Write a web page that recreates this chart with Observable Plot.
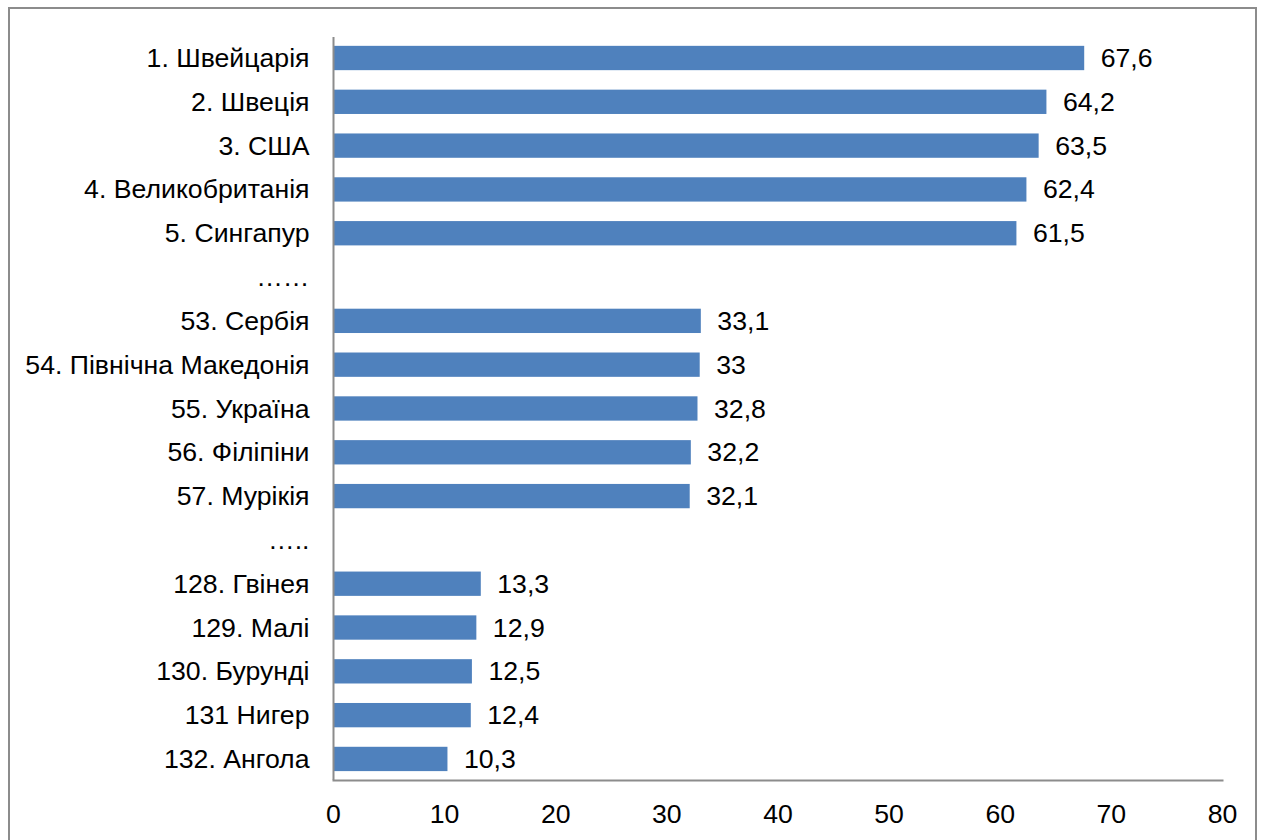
<!DOCTYPE html>
<html>
<head>
<meta charset="utf-8">
<script src="https://cdn.jsdelivr.net/npm/d3@7"></script>
<script src="https://cdn.jsdelivr.net/npm/@observablehq/plot@0.6"></script>
<style>
  html, body { margin: 0; padding: 0; background: #fff; }
  #wrap { position: relative; width: 1262px; height: 840px; overflow: hidden; }
  #border { position: absolute; left: 8px; top: 7px; width: 1249px; height: 900px; border: 2px solid #8c8c8c; box-sizing: border-box; }
  #chart { position: absolute; left: 0; top: 0; }
</style>
</head>
<body>
<div id="wrap">
  <div id="border"></div>
  <div id="chart"></div>
</div>
<script>
const countries = [
  "1. Швейцарія", "2. Швеція", "3. США", "4. Великобританія", "5. Сингапур",
  "……",
  "53. Сербія", "54. Північна Македонія", "55. Україна", "56. Філіпіни", "57. Мурікія",
  "…..",
  "128. Гвінея", "129. Малі", "130. Бурунді", "131 Нигер", "132. Ангола"
];
const values = [67.6, 64.2, 63.5, 62.4, 61.5, null, 33.1, 33, 32.8, 32.2, 32.1, null, 13.3, 12.9, 12.5, 12.4, 10.3];
const xTicks = [0, 10, 20, 30, 40, 50, 60, 70, 80];

const data = countries.map((c, i) => ({country: c, value: values[i]}));
const bars = data.filter(d => d.value != null);
const fmt = v => String(v).replace(".", ",");
const FS = 26.67;

const chart = Plot.plot({
  width: 1262,
  height: 840,
  marginLeft: 333,
  marginRight: 40,
  marginTop: 37,
  marginBottom: 60,
  style: {fontFamily: "'Liberation Sans', Arial, sans-serif", fontSize: FS + "px", color: "#000", background: "transparent"},
  x: {domain: [0, 80], ticks: xTicks, label: null},
  y: {domain: countries, label: null, padding: 0.445, range: [26.35, 790.6], round: false},
  marks: [
    Plot.barX(bars, {x: "value", y: "country", fill: "#4F81BD"}),
    Plot.text(bars, {x: "value", y: "country", text: d => fmt(d.value), textAnchor: "start", dx: 16, fontSize: FS, fill: "#000"}),
    Plot.axisX({ticks: xTicks, tickSize: 0, tickPadding: 24, fontSize: FS, fill: "#000", label: null, tickFormat: d => String(d)}),
    Plot.axisY({tickSize: 0, tickPadding: 24, fontSize: FS, fill: "#000", label: null}),
    Plot.ruleX([0], {stroke: "#8c8c8c", strokeWidth: 2}),
    Plot.frame({anchor: "bottom", stroke: "#8c8c8c", strokeWidth: 2})
  ]
});
document.getElementById("chart").appendChild(chart);
</script>
</body>
</html>
